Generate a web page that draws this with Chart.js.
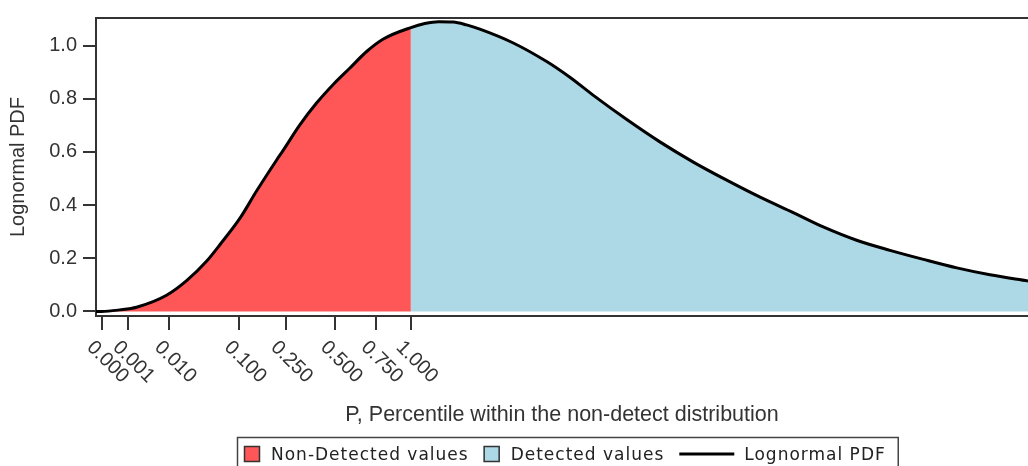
<!DOCTYPE html>
<html>
<head>
<meta charset="utf-8">
<script src="https://cdn.jsdelivr.net/npm/chart.js@4.4.0/dist/chart.umd.min.js"></script>
<style>
  html, body { margin: 0; padding: 0; background: #fff; }
  #wrap { width: 1028px; height: 466px; position: relative; }
</style>
</head>
<body>
<div id="wrap"><canvas id="pdfChart"></canvas></div>
<script>
// lognormal density, x in units of the detection limit
const pdfX = [-0.018, 0, 0.059, 0.113, 0.210, 0.275, 0.340, 0.383, 0.447, 0.501,
    0.566, 0.587, 0.641, 0.695, 0.749, 0.803, 0.857, 0.911, 1.000, 1.045,
    1.090, 1.137, 1.180, 1.223, 1.331, 1.439, 1.515, 1.590, 1.698, 1.805,
    1.913, 2.021, 2.129, 2.236, 2.333, 2.441, 2.549, 2.657, 2.765, 2.872,
    2.995];
const pdfY = [0, 0, 0.006, 0.016, 0.061, 0.116, 0.190, 0.252, 0.350, 0.453,
    0.570, 0.606, 0.702, 0.784, 0.854, 0.916, 0.978, 1.025, 1.068, 1.083,
    1.090, 1.089, 1.078, 1.062, 1.010, 0.940, 0.880, 0.813, 0.722, 0.638,
    0.562, 0.494, 0.430, 0.372, 0.318, 0.268, 0.230, 0.196, 0.164, 0.138,
    0.115];
const detectionLimit = 1.0;

// percentile ticks of the non-detect part, placed at their quantiles
const tickValues = [0, 0.084, 0.219, 0.445, 0.595, 0.756, 0.887, 1.0];
const tickLabels = ['0.000', '0.001', '0.010', '0.100', '0.250', '0.500', '0.750', '1.000'];
const yTicks = [0, 0.2, 0.4, 0.6, 0.8, 1.0];

const sans = '"Liberation Sans", Arial, sans-serif';
const ink = '#333';

const points = pdfX.map((x, i) => ({ x: x, y: pdfY[i] }));
const nonDetected = points.filter(p => p.x >= 0 && p.x <= detectionLimit);
const detected = points.filter(p => p.x >= detectionLimit);

// top edge of the plot frame
const frameTop = {
    id: 'frameTop',
    afterDraw(chart) {
        const { ctx, chartArea: a } = chart;
        ctx.save();
        ctx.strokeStyle = ink;
        ctx.lineWidth = 2;
        ctx.beginPath();
        ctx.moveTo(a.left, a.top);
        ctx.lineTo(a.right, a.top);
        ctx.stroke();
        ctx.restore();
    }
};

// slanted percentile labels under the x ticks
const slantLabels = {
    id: 'slantLabels',
    afterDraw(chart) {
        const { ctx } = chart;
        const x = chart.scales.x;
        ctx.save();
        ctx.font = '20px ' + sans;
        ctx.fillStyle = ink;
        ctx.textAlign = 'center';
        ctx.textBaseline = 'middle';
        tickValues.forEach((v, i) => {
            ctx.save();
            ctx.translate(x.getPixelForValue(v) + 6, x.top + 46);
            ctx.rotate(Math.PI / 4);
            ctx.fillText(tickLabels[i], 0, 0);
            ctx.restore();
        });
        ctx.restore();
    }
};

// boxed legend along the bottom
const boxLegend = {
    id: 'boxLegend',
    afterDraw(chart) {
        const { ctx, chartArea: a } = chart;
        const gap = 15;
        ctx.save();
        ctx.font = '17px "DejaVu Sans", sans-serif';
        if ('letterSpacing' in ctx) ctx.letterSpacing = '1px';
        const items = chart.data.datasets.map(ds => ({
            label: ds.label,
            fill: ds.fill ? ds.backgroundColor : null,
            line: ds.fill ? null : ds.borderColor,
            w: ctx.measureText(ds.label).width
        }));
        let total = 7 + 12;
        items.forEach((it, i) => {
            total += (it.fill ? 17 : 55) + 10 + it.w + (i ? gap : 0);
        });
        const left = Math.round((a.left + a.right) / 2 + 5 - total / 2);
        const top = 437;
        ctx.strokeStyle = '#444';
        ctx.lineWidth = 1.5;
        ctx.strokeRect(left + 0.5, top + 0.5, total, 40);
        let cx = left + 7;
        items.forEach((it, i) => {
            if (i) cx += gap;
            if (it.fill) {
                ctx.fillStyle = it.fill;
                ctx.fillRect(cx, 446, 16, 16);
                ctx.strokeStyle = ink;
                ctx.lineWidth = 1.5;
                ctx.strokeRect(cx + 0.5, 446.5, 15, 15);
                cx += 17;
            } else {
                ctx.strokeStyle = it.line;
                ctx.lineWidth = 3;
                ctx.beginPath();
                ctx.moveTo(cx, 454);
                ctx.lineTo(cx + 55, 454);
                ctx.stroke();
                cx += 55;
            }
            cx += 10;
            ctx.fillStyle = '#222';
            ctx.textAlign = 'left';
            ctx.textBaseline = 'alphabetic';
            ctx.fillText(it.label, cx, 460);
            cx += it.w;
        });
        ctx.restore();
    }
};

new Chart(document.getElementById('pdfChart'), {
    type: 'line',
    data: {
        datasets: [{
            label: 'Non-Detected values',
            data: nonDetected,
            fill: 'origin',
            backgroundColor: '#ff5757',
            borderWidth: 0,
            pointRadius: 0,
            cubicInterpolationMode: 'monotone',
            order: 1
        }, {
            label: 'Detected values',
            data: detected,
            fill: 'origin',
            backgroundColor: '#add8e6',
            borderWidth: 0,
            pointRadius: 0,
            cubicInterpolationMode: 'monotone',
            order: 1
        }, {
            label: 'Lognormal PDF',
            data: points,
            fill: false,
            borderColor: '#000',
            borderWidth: 3,
            pointRadius: 0,
            cubicInterpolationMode: 'monotone',
            order: 0
        }]
    },
    options: {
        responsive: true,
        maintainAspectRatio: false,
        animation: false,
        devicePixelRatio: 1,
        layout: { padding: { top: 13, right: 0, left: 0, bottom: 0 } },
        plugins: {
            legend: { display: false },
            tooltip: { enabled: false }
        },
        scales: {
            x: {
                type: 'linear',
                min: -0.018,
                max: 2.995,
                afterBuildTicks: s => { s.ticks = tickValues.map(v => ({ value: v })); },
                afterFit: s => { s.height = 150; },
                ticks: { display: false, autoSkip: false },
                grid: { drawOnChartArea: false, tickLength: 14, color: ink, lineWidth: 2 },
                border: { display: true, color: ink, width: 2 },
                title: {
                    display: true,
                    text: 'P, Percentile within the non-detect distribution',
                    font: { family: sans, size: 21.5 },
                    color: ink,
                    padding: { top: 0, bottom: 38 }
                }
            },
            y: {
                min: -0.017,
                max: 1.104,
                afterBuildTicks: s => { s.ticks = yTicks.map(v => ({ value: v })); },
                afterFit: s => { s.width = 96; },
                ticks: {
                    callback: v => v.toFixed(1),
                    font: { family: sans, size: 20 },
                    color: ink,
                    padding: 6
                },
                grid: { drawOnChartArea: false, tickLength: 13, color: ink, lineWidth: 2 },
                border: { display: true, color: ink, width: 2 },
                title: {
                    display: true,
                    text: 'Lognormal PDF',
                    font: { family: sans, size: 20 },
                    color: ink,
                    padding: { top: 6, bottom: 0 }
                }
            }
        }
    },
    plugins: [frameTop, slantLabels, boxLegend]
});
</script>
</body>
</html>
